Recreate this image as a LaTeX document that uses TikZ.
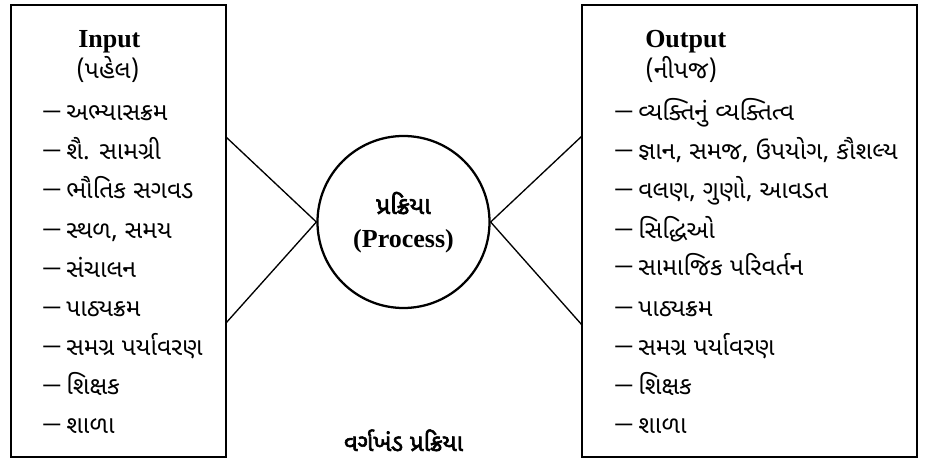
\documentclass[tikz,border=0pt]{standalone}
\usepackage{fontspec}
\setmainfont{Liberation Serif}
\newfontfamily\guj[Script=Gujarati]{Noto Sans Gujarati UI}
\newfontfamily\gujb[Script=Gujarati,FakeBold=2.5]{Noto Sans Gujarati UI}
\newfontfamily\dashf{Liberation Sans}
\newcommand\dsh{\raisebox{3pt}{\dashf\bfseries\fontsize{12.75}{13}\selectfont —}\hspace{4.5pt}}
\begin{document}
\begin{tikzpicture}[x=0.75pt,y=-0.75pt,
  box/.style={draw, line width=1.5pt},
  link/.style={draw, line width=1pt},
  item/.style={anchor=base west, inner sep=0pt, font=\guj\fontsize{18.5}{20}\selectfont},
  head/.style={anchor=base west, inner sep=0pt, font=\bfseries\fontsize{19.5}{22}\selectfont},
  sub/.style={anchor=base west, inner sep=0pt, font=\guj\fontsize{18.5}{20}\selectfont},
  ctr/.style={anchor=base, inner sep=0pt}]
\useasboundingbox (0,0) rectangle (926,463);
% boxes
\coordinate (inNW) at (11,5);
\coordinate (inSE) at (226,457);
\coordinate (outNW) at (582,5);
\coordinate (outSE) at (917,457);
\draw[box] (inNW) rectangle (inSE);
\draw[box] (outNW) rectangle (outSE);
% circle
\node[draw, circle, line width=1.7pt, minimum size=172*0.75pt, inner sep=0pt] (proc) at (403.5,222) {};
\node[ctr, font=\gujb\fontsize{18.5}{20}\selectfont] (pt1) at (403.5,214) {પ્રક્રિયા};
\node[ctr, font=\bfseries\fontsize{19.5}{22}\selectfont] (pt2) at (403.5,248) {(Process)};
% connectors
\coordinate (l1) at (226,137);
\coordinate (l2) at (226,323);
\coordinate (r1) at (582,136);
\coordinate (r2) at (582,325);
\draw[link] (l1) -- (proc.west);
\draw[link] (l2) -- (proc.west);
\draw[link] (r1) -- (proc.east);
\draw[link] (r2) -- (proc.east);
% input
\node[head] (inh) at (78,48) {Input};
\node[sub] (ins) at (76,79) {(પહેલ)};
\node[item] (i1) at (43,121) {\dsh અભ્યાસક્રમ};
\node[item] (i2) at (43,160) {\dsh શૈ. સામગ્રી};
\node[item] (i3) at (43,199) {\dsh ભૌતિક સગવડ};
\node[item] (i4) at (43,239) {\dsh સ્થળ, સમય};
\node[item] (i5) at (43,278) {\dsh સંચાલન};
\node[item] (i6) at (43,317) {\dsh પાઠ્યક્રમ};
\node[item] (i7) at (43,356) {\dsh સમગ્ર પર્યાવરણ};
\node[item] (i8) at (43,395) {\dsh શિક્ષક};
\node[item] (i9) at (43,434) {\dsh શાળા};
% output
\node[head] (outh) at (645,48) {Output};
\node[sub] (outs) at (645,79) {(નીપજ)};
\node[item] (o1) at (615,121) {\dsh વ્યક્તિનું વ્યક્તિત્વ};
\node[item] (o2) at (615,160) {\dsh જ્ઞાન, સમજ, ઉપયોગ, કૌશલ્ય};
\node[item] (o3) at (615,199) {\dsh વલણ, ગુણો, આવડત};
\node[item] (o4) at (615,239) {\dsh સિદ્ધિઓ};
\node[item] (o5) at (615,276) {\dsh સામાજિક પરિવર્તન};
\node[item] (o6) at (615,317) {\dsh પાઠ્યક્રમ};
\node[item] (o7) at (615,356) {\dsh સમગ્ર પર્યાવરણ};
\node[item] (o8) at (615,395) {\dsh શિક્ષક};
\node[item] (o9) at (615,434) {\dsh શાળા};
% caption
\node[ctr, font=\gujb\fontsize{18}{20}\selectfont] (cap) at (403.5,451) {વર્ગખંડ પ્રક્રિયા};
\end{tikzpicture}
\end{document}
